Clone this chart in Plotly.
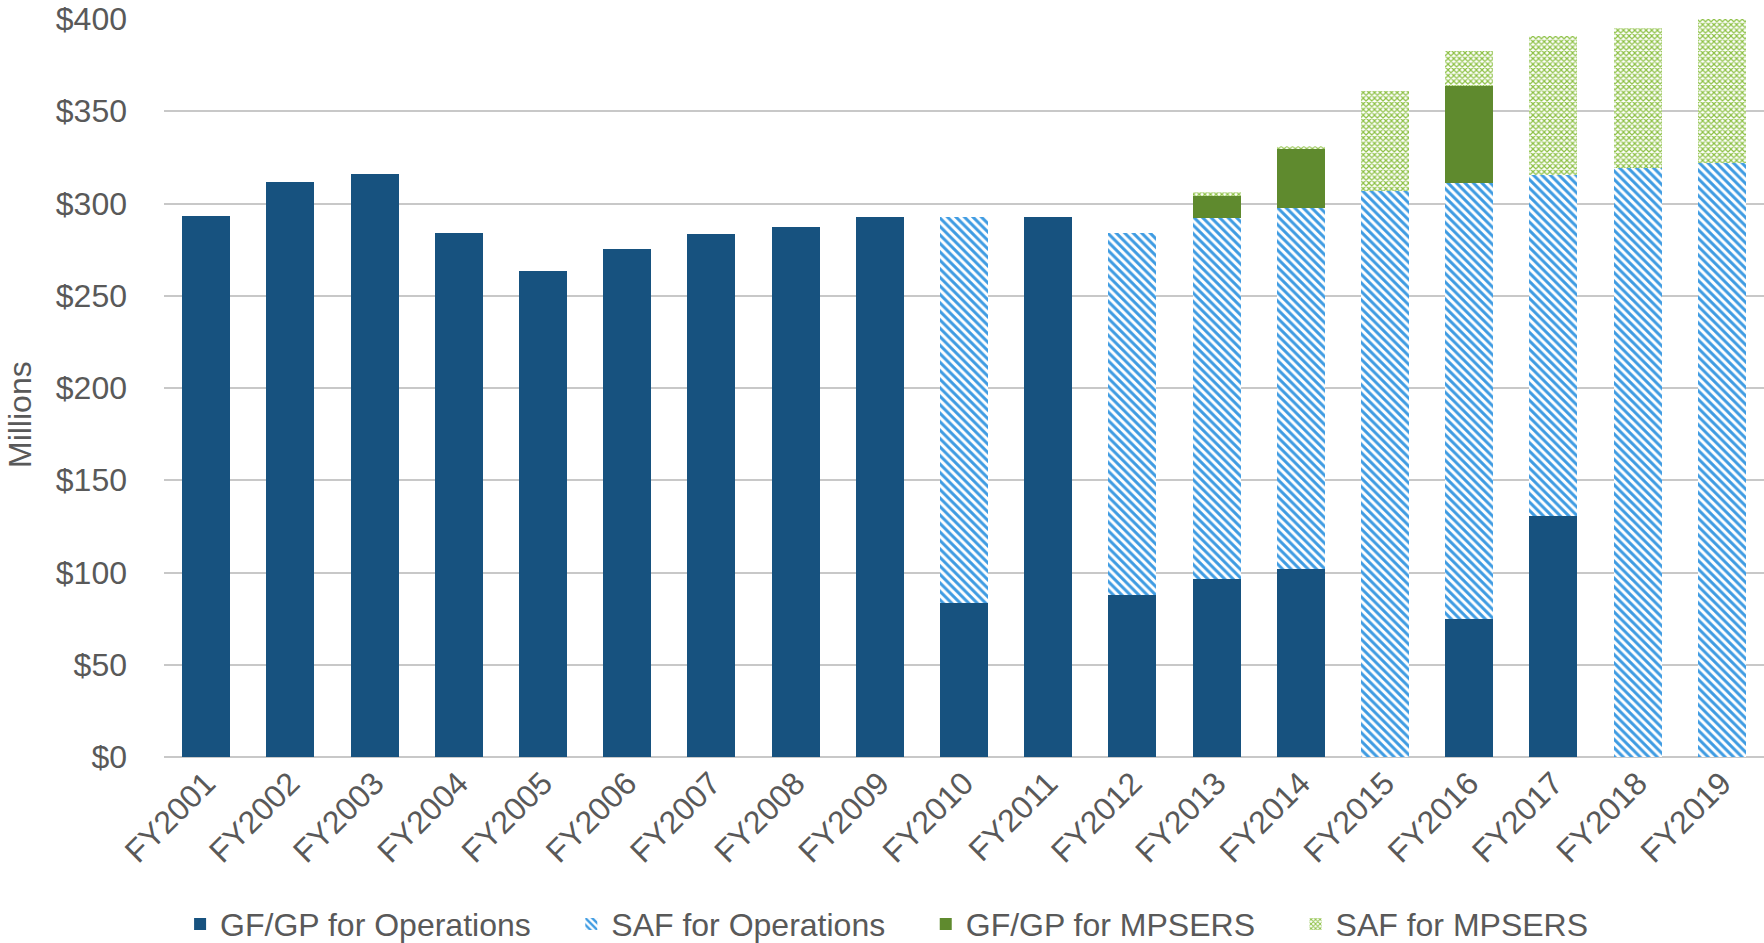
import plotly.graph_objects as go

# Fiscal years on the category axis
years = ["FY2001", "FY2002", "FY2003", "FY2004", "FY2005", "FY2006", "FY2007",
         "FY2008", "FY2009", "FY2010", "FY2011", "FY2012", "FY2013", "FY2014",
         "FY2015", "FY2016", "FY2017", "FY2018", "FY2019"]

# Funding by source, $ millions
gfgp_operations = [293.3, 311.6, 315.9, 284.1, 263.4, 275.6, 283.5, 287.2, 292.7,
                   83.5, 292.7, 87.8, 96.3, 101.8, 0, 75.0, 130.5, 0, 0]
saf_operations = [0, 0, 0, 0, 0, 0, 0, 0, 0,
                  209.2, 0, 196.3, 195.7, 195.8, 306.9, 236.2, 185.2, 319.0, 321.9]
gfgp_mpsers = [0, 0, 0, 0, 0, 0, 0, 0, 0,
               0, 0, 0, 12.3, 31.7, 0, 52.5, 0, 0, 0]
saf_mpsers = [0, 0, 0, 0, 0, 0, 0, 0, 0,
              0, 0, 0, 1.8, 1.6, 54.2, 18.9, 75.3, 76.1, 78.1]

series_names = ["GF/GP for Operations", "SAF for Operations",
                "GF/GP for MPSERS", "SAF for MPSERS"]

y_ticks = [0, 50, 100, 150, 200, 250, 300, 350, 400]
y_tick_text = ["$0", "$50", "$100", "$150", "$200", "$250", "$300", "$350", "$400"]

DARK_BLUE = "#17527F"
LIGHT_BLUE = "#3E9BE2"
DARK_GREEN = "#5F8A2E"
LIGHT_GREEN = "#8CC043"
TEXT = "#595959"
FONT = "Liberation Sans, Arial, sans-serif"
FS = 32

# non-breaking spaces keep room between legend entries
PAD = "\u00a0" * 4

fig = go.Figure()
fig.add_trace(go.Bar(
    name=series_names[0] + PAD, x=years, y=gfgp_operations,
    marker=dict(color=DARK_BLUE, line=dict(width=0)),
))
fig.add_trace(go.Bar(
    name=series_names[1] + PAD, x=years, y=saf_operations,
    marker=dict(color=LIGHT_BLUE, line=dict(width=0),
                pattern=dict(shape="\\", fgcolor=LIGHT_BLUE, bgcolor="white",
                             size=6, solidity=0.5, fillmode="replace")),
))
fig.add_trace(go.Bar(
    name=series_names[2] + PAD, x=years, y=gfgp_mpsers,
    marker=dict(color=DARK_GREEN, line=dict(width=0)),
))
fig.add_trace(go.Bar(
    name=series_names[3], x=years, y=saf_mpsers,
    marker=dict(color=LIGHT_GREEN, line=dict(width=0),
                pattern=dict(shape="x", fgcolor=LIGHT_GREEN, bgcolor="white",
                             size=4, solidity=0.5, fillmode="replace")),
))

fig.update_layout(
    barmode="stack",
    bargap=0.43,
    width=1764,
    height=943,
    margin=dict(l=164, r=0, t=19, b=186),
    paper_bgcolor="white",
    plot_bgcolor="white",
    font=dict(family=FONT, size=FS, color=TEXT),
    legend=dict(
        orientation="h",
        xref="container", yref="container",
        x=0.5026, xanchor="center",
        y=0.02, yanchor="middle",
        font=dict(size=FS, color=TEXT),
        itemwidth=30,
        traceorder="normal",
    ),
    xaxis=dict(
        tickangle=-45,
        tickfont=dict(size=FS, color=TEXT),
        showgrid=False,
        showline=False,
        ticks="",
    ),
    yaxis=dict(
        range=[0, 400],
        tickvals=y_ticks,
        ticktext=y_tick_text,
        tickfont=dict(size=FS, color=TEXT),
        showgrid=True,
        gridcolor="#C8C8C8",
        gridwidth=2,
        zeroline=True,
        zerolinecolor="#C8C8C8",
        zerolinewidth=2,
        showline=False,
        ticks="",
        ticklabelstandoff=36,
    ),
    annotations=[dict(
        text="Millions", textangle=-90,
        xref="paper", yref="paper",
        x=(20 - 164) / 1600, y=(757 - 415) / 738,
        xanchor="center", yanchor="middle",
        showarrow=False,
        font=dict(size=FS, color=TEXT),
    )],
)

fig.write_html("out.html")
